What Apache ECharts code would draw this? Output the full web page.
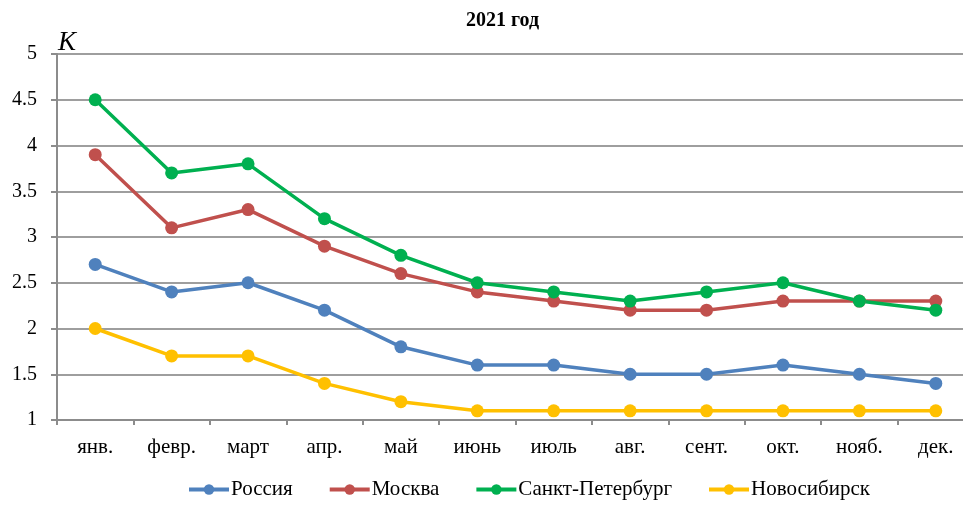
<!DOCTYPE html>
<html><head><meta charset="utf-8">
<script src="https://cdn.jsdelivr.net/npm/echarts@6/dist/echarts.min.js"></script>
<style>html,body{margin:0;padding:0;background:#fff}#c{width:963px;height:505px}</style>
</head><body><div id="c"></div>
<script>
const categories = ['янв.','февр.','март','апр.','май','июнь','июль','авг.','сент.','окт.','нояб.','дек.'];
const russia = [2.7,2.4,2.5,2.2,1.8,1.6,1.6,1.5,1.5,1.6,1.5,1.4];
const moscow = [3.9,3.1,3.3,2.9,2.6,2.4,2.3,2.2,2.2,2.3,2.3,2.3];
const spb = [4.5,3.7,3.8,3.2,2.8,2.5,2.4,2.3,2.4,2.5,2.3,2.2];
const novosib = [2.0,1.7,1.7,1.4,1.2,1.1,1.1,1.1,1.1,1.1,1.1,1.1];
const seriesNames = ['Россия','Москва','Санкт-Петербург','Новосибирск'];
const colors = ['#4F81BD','#C0504D','#00B050','#FFC000'];
const FONT = '"Liberation Serif", "Times New Roman", serif';

const chart = echarts.init(document.getElementById('c'));
const mk = (name, data, color) => ({
  name, type: 'line', data, symbol: 'circle', symbolSize: 13,
  lineStyle: {width: 3.5, color}, itemStyle: {color}, animation: false
});
chart.setOption({
  animation: false,
  textStyle: {fontFamily: FONT},
  title: {text: '2021 год', left: 461, top: 6,
    textStyle: {fontFamily: FONT, fontWeight: 'bold', fontSize: 20, color: '#000'}},
  graphic: [{type: 'text', left: 58, top: 29,
    style: {text: 'K', font: 'italic 27px ' + FONT, fill: '#000'}}],
  grid: {left: 57, width: 917, top: 54, bottom: 85, outerBoundsMode: 'none', containLabel: false},
  legend: {top: 479, left: 187, padding: 0, itemWidth: 40, itemHeight: 13, itemGap: 35,
    lineStyle: {width: 4},
    textStyle: {fontFamily: FONT, fontSize: 21, color: '#000', padding: [0,0,0,-3]},
    data: seriesNames},
  xAxis: {type: 'category', data: categories, boundaryGap: true,
    axisLine: {lineStyle: {color: '#8C8C8C', width: 2}},
    axisTick: {show: true, length: 5, lineStyle: {color: '#8C8C8C', width: 2}},
    axisLabel: {fontFamily: FONT, fontSize: 21, color: '#000', margin: 17}},
  yAxis: {type: 'value', min: 1, max: 5, interval: 0.5,
    axisLine: {show: true, lineStyle: {color: '#8C8C8C', width: 2}},
    axisTick: {show: true, length: 6, lineStyle: {color: '#8C8C8C', width: 2}},
    splitLine: {lineStyle: {color: '#9E9E9E', width: 2}},
    axisLabel: {fontFamily: FONT, fontSize: 20, color: '#000', margin: 20}},
  series: [mk(seriesNames[0], russia, colors[0]), mk(seriesNames[1], moscow, colors[1]),
           mk(seriesNames[2], spb, colors[2]), mk(seriesNames[3], novosib, colors[3])]
});
</script></body></html>
